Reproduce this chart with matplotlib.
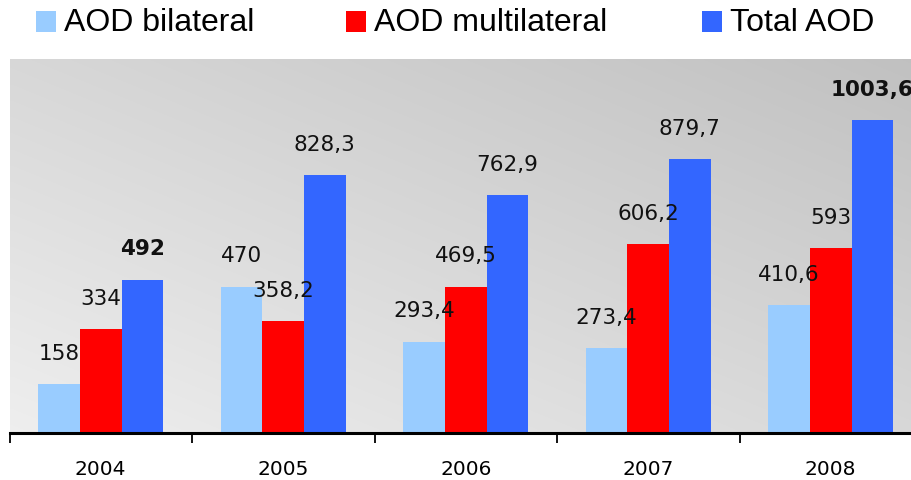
import numpy as np
import matplotlib
matplotlib.use("Agg")
import matplotlib.pyplot as plt
from matplotlib.patches import Rectangle

# Chart data
years = ["2004", "2005", "2006", "2007", "2008"]
series_names = ["AOD bilateral", "AOD multilateral", "Total AOD"]
bilateral = [158, 470, 293.4, 273.4, 410.6]
multilateral = [334, 358.2, 469.5, 606.2, 593]
total = [492, 828.3, 762.9, 879.7, 1003.6]

colors = ["#99CCFF", "#FF0000", "#3366FF"]
bold_labels = {(2, 0), (2, 4)}  # (series, year) pairs drawn in bold


def fmt(v):
    # decimal comma like the source
    return f"{v:g}".replace(".", ",")


def draw_background(ax):
    """Diagonal grey gradient: light bottom-left, darker top-right."""
    n = 200
    u = np.linspace(0, 1, n)
    uu, vv = np.meshgrid(u, u)
    t = (uu + vv) / 2
    grey = 0.935 - 0.18 * t
    img = np.dstack([grey, grey, grey])
    ax.imshow(img, extent=[0, 1, 0, 1], transform=ax.transAxes,
              origin="lower", aspect="auto", zorder=0, interpolation="bilinear")


def main():
    fig = plt.figure(figsize=(9.11, 4.81), dpi=100)
    W, H = 911, 481
    left, right, bottom, top = 9.5, 922, 481 - 434, 481 - 60
    ax = fig.add_axes([left / W, bottom / H, (right - left) / W, (top - bottom) / H])

    draw_background(ax)

    x = np.arange(len(years))
    w = 0.228
    data = [bilateral, multilateral, total]
    for j, vals in enumerate(data):
        pos = x + (j - 1) * w
        bars = ax.bar(pos, vals, width=w, color=colors[j], zorder=2, linewidth=0)
        for i, b in enumerate(bars):
            weight = "bold" if (j, i) in bold_labels else "normal"
            ax.annotate(fmt(vals[i]), (b.get_x() + b.get_width() / 2, b.get_height()),
                        xytext=(0, 22.5), textcoords="offset points",
                        ha="center", va="center", fontsize=15.5,
                        fontweight=weight, color="#111111", zorder=3,
                        annotation_clip=False)

    ax.set_xlim(-0.5, len(years) - 0.5)
    ax.set_ylim(0, 1200)

    # axis styling
    for s in ["top", "right", "left"]:
        ax.spines[s].set_visible(False)
    ax.spines["bottom"].set_linewidth(2.2)
    ax.spines["bottom"].set_zorder(4)
    ax.set_yticks([])
    ax.set_xticks(x)
    ax.set_xticklabels(years, fontsize=14.5)
    ax.tick_params(axis="x", which="major", length=0, pad=19)
    ax.set_xticks(np.arange(-0.5, len(years), 1.0), minor=True)
    ax.tick_params(axis="x", which="minor", length=7, width=1.3, color="black")

    # legend drawn by hand across the top
    leg_x = [36, 346, 702]
    for name, c, lx in zip(series_names, colors, leg_x):
        fig.add_artist(Rectangle((lx / W, 1 - 33 / H), 20 / W, 21 / H,
                                 transform=fig.transFigure, color=c, linewidth=0))
        fig.text((lx + 28) / W, 1 - 23 / H, name, fontsize=23,
                 family=["Liberation Sans", "DejaVu Sans"],
                 ha="left", va="center", color="black")

    fig.savefig("out.png", dpi=100)
    plt.close(fig)


if __name__ == "__main__":
    main()
